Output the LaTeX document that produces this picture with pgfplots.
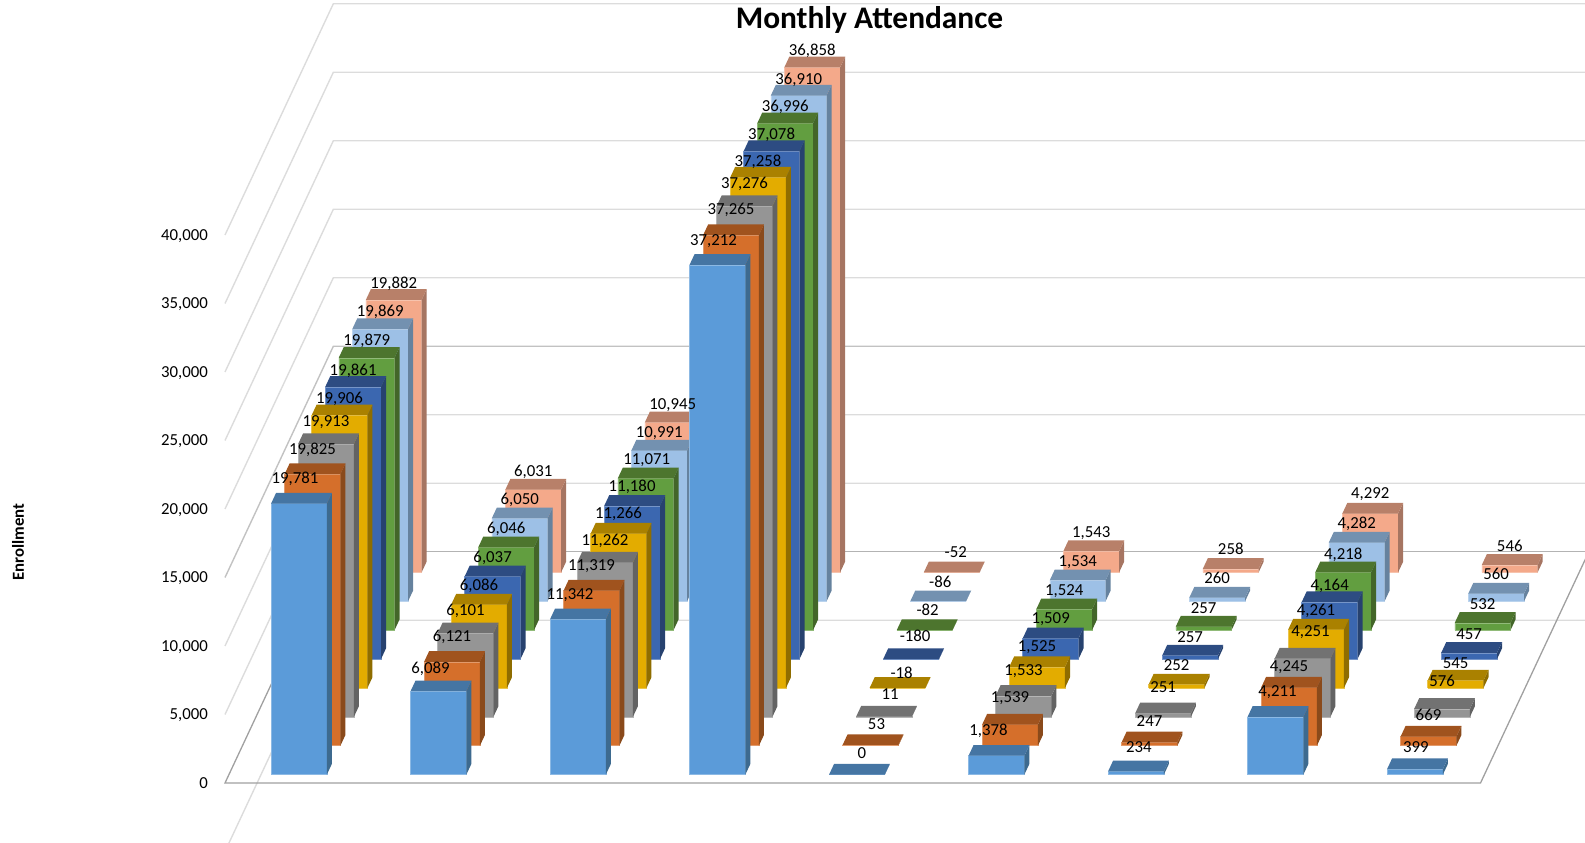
\documentclass[border=0pt]{standalone}
\usepackage{fontspec}
\setmainfont{Carlito}
\usepackage{pgfplots}
\pgfplotsset{compat=1.18}
\definecolor{s0f}{HTML}{5B9BD9}\definecolor{s0t}{HTML}{4575A3}\definecolor{s0s}{HTML}{3D6A8F}
\definecolor{s1f}{HTML}{D56F2B}\definecolor{s1t}{HTML}{A0531E}\definecolor{s1s}{HTML}{8A4A1B}
\definecolor{s2f}{HTML}{959595}\definecolor{s2t}{HTML}{727272}\definecolor{s2s}{HTML}{636363}
\definecolor{s3f}{HTML}{E3AC00}\definecolor{s3t}{HTML}{AA8100}\definecolor{s3s}{HTML}{8F6D00}
\definecolor{s4f}{HTML}{3B67B0}\definecolor{s4t}{HTML}{2D4C82}\definecolor{s4s}{HTML}{27426F}
\definecolor{s5f}{HTML}{629E40}\definecolor{s5t}{HTML}{4D752E}\definecolor{s5s}{HTML}{436629}
\definecolor{s6f}{HTML}{9DC0E6}\definecolor{s6t}{HTML}{7391B0}\definecolor{s6s}{HTML}{66829E}
\definecolor{s7f}{HTML}{F4A98A}\definecolor{s7t}{HTML}{B88069}\definecolor{s7s}{HTML}{A67562}
\definecolor{gridc}{HTML}{DCDCDC}
\definecolor{floorc}{HTML}{A0A0A0}
\gdef\allLabels{}
\newcommand\B[5]{%
  \pgfmathsetmacro\xa{#1+0.302}\pgfmathsetmacro\xb{#1+0.702}%
  \pgfmathsetmacro\ya{#2+0.29}\pgfmathsetmacro\yb{#2+0.66}%
  \pgfmathsetmacro\xc{#1+0.502}%
  \ifnum#3<0 \def\h{0}\else\def\h{#3}\fi
  \edef\doit{%
    \noexpand\addplot3[fill=s#2f,draw=s#2f!70!white,line width=0.5pt] coordinates {(\xa,\ya,0)(\xb,\ya,0)(\xb,\ya,\h)(\xa,\ya,\h)(\xa,\ya,0)};
    \noexpand\addplot3[fill=s#2s,draw=none] coordinates {(\xb,\ya,0)(\xb,\yb,0)(\xb,\yb,\h)(\xb,\ya,\h)(\xb,\ya,0)};
    \noexpand\addplot3[fill=s#2t,draw=none] coordinates {(\xa,\ya,\h)(\xb,\ya,\h)(\xb,\yb,\h)(\xa,\yb,\h)(\xa,\ya,\h)};
  }\doit
  \xdef\allLabels{\unexpanded\expandafter{\allLabels}\noexpand\node[anchor=center,font=\noexpand\lab,xshift=#4pt,yshift=23pt+#5pt,inner sep=0pt] at (axis cs:\xc,\ya,\h) {\noexpand\pgfmathprintnumber{#3}};}%
}
\newcommand\lab{\fontsize{16.8}{20}\selectfont}
\newcommand\G[2][gridc]{%
  \addplot3[#1,line width=1.4pt] coordinates {(0,0,#2)(0,8,#2)(9,8,#2)};}
\begin{document}
\begin{tikzpicture}[x=1pt,y=1pt]
\path[use as bounding box] (0,0) rectangle (1585,843);
\clip (0,0) rectangle (1585,843);
\begin{axis}[
  anchor=origin, at={(225pt,60pt)},
  x={(139.5pt,0pt)}, y={(13.54pt,28.9pt)}, z={(0pt,0.0137pt)},
  xmin=0,xmax=9,ymin=0,ymax=8,zmin=-5000,zmax=40000,
  clip=false,
  axis line style={draw=none},
  xtick=\empty, ytick=\empty,
  ztick={0,5000,10000,15000,20000,25000,30000,35000,40000},
  scaled z ticks=false,
  major tick length=0pt,
  zticklabel pos=left,
  zticklabel style={font=\lab,anchor=east,inner sep=0pt,text height=11pt,text depth=2.5pt,xshift=-17pt,yshift=-1pt},
  /pgf/number format/.cd,fixed,precision=0,1000 sep={,},assume math mode=true,
]
\G{-5000}\G{5000}\G{10000}\G[black!24]{15000}\G{20000}\G{25000}\G{30000}\G{35000}\G{40000}
\addplot3[floorc,line width=1.3pt] coordinates {(0,8,0)(0,0,0)(9,0,0)(9,8,0)};
\addplot3[floorc!80!white,line width=1.3pt] coordinates {(0,8,0)(9,8,0)};
% arguments: category, series, value, label dx, label dy; the back series comes first
\B{0}{7}{19882}{0}{-7}\B{1}{7}{6031}{0}{-5}\B{2}{7}{10945}{0}{-6}\B{3}{7}{36858}{0}{-6}\B{4}{7}{-52}{4}{-3}\B{5}{7}{1543}{0}{-5}\B{6}{7}{258}{0}{-3}\B{7}{7}{4292}{0}{-4}\B{8}{7}{546}{0}{-4}
\B{0}{6}{19869}{0}{-6}\B{1}{6}{6050}{0}{-5}\B{2}{6}{10991}{0}{-5}\B{3}{6}{36910}{0}{-7}\B{4}{6}{-86}{2}{-4}\B{5}{6}{1534}{0}{-5}\B{6}{6}{260}{0}{-3}\B{7}{6}{4282}{0}{-4}\B{8}{6}{560}{0}{-3}
\B{0}{5}{19879}{0}{-6}\B{1}{5}{6046}{0}{-5}\B{2}{5}{11071}{1}{-5}\B{3}{5}{36996}{0}{-7}\B{4}{5}{-82}{3}{-3}\B{5}{5}{1524}{0}{-5}\B{6}{5}{257}{0}{-5}\B{7}{5}{4218}{0}{-6}\B{8}{5}{532}{0}{-4}
\B{0}{4}{19861}{0}{-7}\B{1}{4}{6037}{0}{-5}\B{2}{4}{11180}{0}{-4}\B{3}{4}{37078}{0}{-7}\B{4}{4}{-180}{4}{0}\B{5}{4}{1509}{0}{-4}\B{6}{4}{257}{0}{-5}\B{7}{4}{4164}{0}{-7}\B{8}{4}{457}{0}{-4}
\B{0}{3}{19906}{0}{-7}\B{1}{3}{6086}{0}{-4}\B{2}{3}{11266}{0}{-3}\B{3}{3}{37258}{0}{-7}\B{4}{3}{-18}{4}{-8}\B{5}{3}{1525}{0}{-3}\B{6}{3}{252}{0}{-4}\B{7}{3}{4261}{0}{-4}\B{8}{3}{545}{0}{-6}
\B{0}{2}{19913}{0}{-1}\B{1}{2}{6101}{0}{-1}\B{2}{2}{11262}{0}{-1}\B{3}{2}{37276}{0}{-1}\B{4}{2}{11}{6}{0}\B{5}{2}{1533}{0}{2}\B{6}{2}{251}{0}{3}\B{7}{2}{4251}{8}{3}\B{8}{2}{576}{0}{5}
\B{0}{1}{19825}{0}{1}\B{1}{1}{6121}{0}{2}\B{2}{1}{11319}{0}{2}\B{3}{1}{37265}{0}{2}\B{4}{1}{53}{6}{-2}\B{5}{1}{1539}{0}{4}\B{6}{1}{247}{0}{-2}\B{7}{1}{4245}{0}{-3}\B{8}{1}{669}{0}{-1}
\B{0}{0}{19781}{-4}{2}\B{1}{0}{6089}{-8}{-1}\B{2}{0}{11342}{-8}{1}\B{3}{0}{37212}{-4}{1}\B{4}{0}{0}{5}{-1}\B{5}{0}{1378}{-8}{2}\B{6}{0}{234}{3}{1}\B{7}{0}{4211}{2}{2}\B{8}{0}{399}{1}{-1}
\allLabels
\end{axis}
\node[font=\fontsize{31.4}{36}\selectfont\bfseries] at (869.5,823) {Monthly Attendance};
\node[font=\fontsize{16.8}{20}\selectfont\bfseries,rotate=90] at (18,301) {Enrollment};
\end{tikzpicture}
\end{document}
